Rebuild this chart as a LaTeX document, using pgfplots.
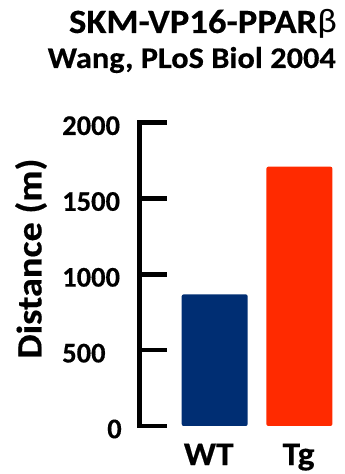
\documentclass[border=0pt]{standalone}
\usepackage{fontspec}
\setmainfont{Carlito}
\newfontfamily\wfont{Carlito}[FakeStretch=1.08, BoldFeatures={FakeBold=0.4}]
\newfontfamily\tfont{Carlito}[BoldFeatures={FakeBold=0.4}]
\usepackage{pgfplots}
\pgfplotsset{compat=1.18}
\definecolor{wtblue}{RGB}{0,46,115}
\definecolor{tgred}{RGB}{255,42,0}
\begin{document}
\begin{tikzpicture}[x=1pt,y=1pt]
\node[anchor=base east, inner sep=0pt, font=\wfont\bfseries\fontsize{34}{34}\selectfont] at (337,441) {SKM-VP16-PPAR\textmd{β}};
\node[anchor=base east, inner sep=0pt, font=\wfont\bfseries\fontsize{30}{30}\selectfont] at (336,406) {Wang, PLoS Biol 2004};
\node[rotate=90, anchor=center, inner sep=0pt, font=\wfont\bfseries\fontsize{35.5}{35.5}\selectfont] at (31,215.5) {Distance (m)};
\begin{axis}[
  at={(214.7pt,48pt)}, anchor=origin,
  scale only axis,
  width=202.4pt, height=303.3pt,
  xmin=-0.89, xmax=1.5,
  ymin=0, ymax=2000,
  axis y line=left,
  axis x line=none,
  y axis line style={-, line width=4.5pt, line cap=rect},
  ytick={0,500,1000,1500,2000},
  yticklabels={\hspace*{45pt}0,500,1000,1500,2000},
  tick align=inside,
  major tick length=28pt,
  ytick style={line width=4.5pt, black},
  yticklabel style={font=\tfont\bfseries\fontsize{28.5}{28.5}\selectfont, anchor=west, inner sep=0pt, xshift=-77.3pt, yshift=-3pt},
  clip=false,
]
\addplot[ybar, bar width=66pt, bar shift=0pt, fill=wtblue, draw=none, rounded corners=2pt] coordinates {(0,868)};
\addplot[ybar, bar width=66pt, bar shift=0pt, fill=tgred, draw=none, rounded corners=2pt] coordinates {(1,1710)};
\node[anchor=base, inner sep=0pt, font=\wfont\bfseries\fontsize{33}{33}\selectfont] at (axis cs:-0.07,0) [yshift=-39pt] {WT};
\node[anchor=base, inner sep=0pt, font=\wfont\bfseries\fontsize{33}{33}\selectfont] at (axis cs:0.99,0) [yshift=-39pt] {Tg};
\end{axis}
\pgfresetboundingbox
\path[use as bounding box] (0,0) rectangle (345pt,474pt);
\end{tikzpicture}
\end{document}
